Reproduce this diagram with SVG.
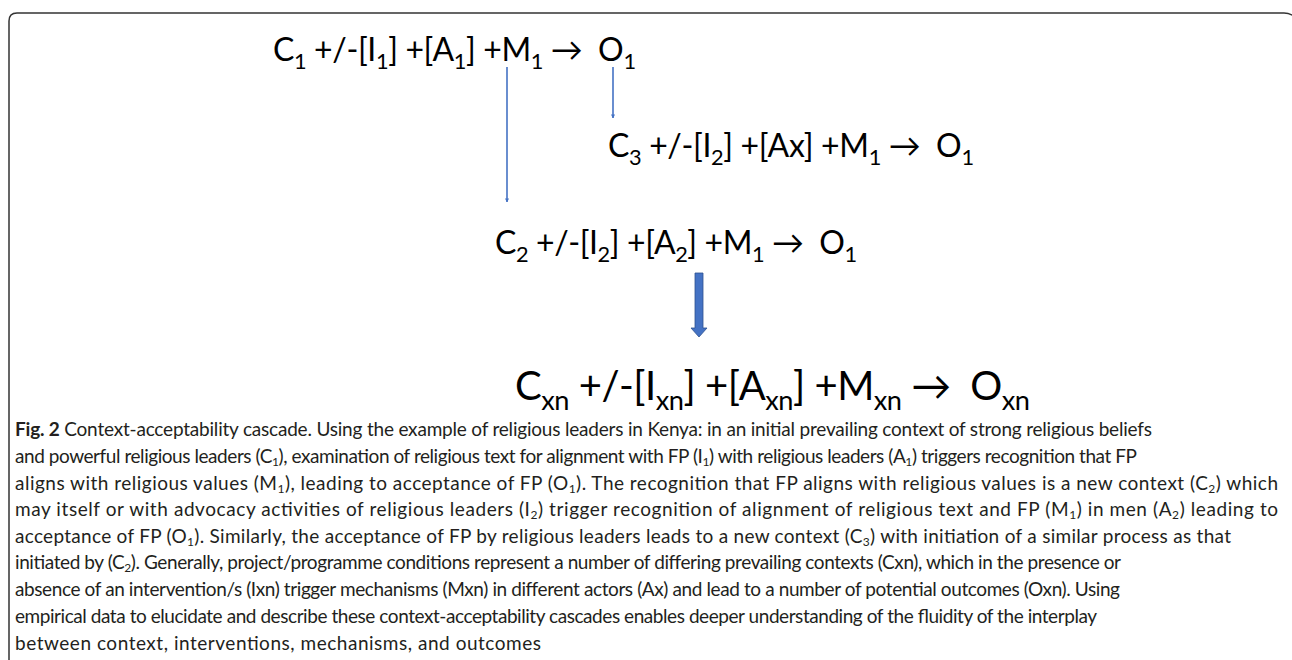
<svg xmlns="http://www.w3.org/2000/svg" width="1292" height="660" viewBox="0 0 1292 660">
<style>
.f{font-family:Lato,"Open Sans","Liberation Sans",sans-serif;fill:#000}
.f1{font-size:32px}
.f4{font-size:40px}
.s{font-size:0.68em}
.cap{font-family:Lato,"Liberation Sans",sans-serif;font-size:19px;fill:#231F20}
.cs{font-size:12px}
.thin{stroke:#4472C4;stroke-width:1.6;fill:none}
</style>
<defs>
<marker id="ah" viewBox="0 0 10 10" refX="9" refY="5" markerWidth="4" markerHeight="4" orient="auto" markerUnits="userSpaceOnUse">
<path d="M0,0 L10,5 L0,10 z" fill="#4472C4"/>
</marker>
</defs>
<rect width="1292" height="660" fill="#fff"/>
<path d="M9,680 L9,21 Q9,13 17,13 L1284,13 Q1292,13 1298,20" fill="none" stroke="#333" stroke-width="1.5"/>

<g id="f1">
<text class="f f1" x="273" y="61" textLength="363" lengthAdjust="spacing">C<tspan class="s" dy="8">1</tspan><tspan dy="-8"> +/-[I</tspan><tspan class="s" dy="8">1</tspan><tspan dy="-8">] +[A</tspan><tspan class="s" dy="8">1</tspan><tspan dy="-8">] +M</tspan><tspan class="s" dy="8">1</tspan><tspan dy="-8"> →&#160; O</tspan><tspan class="s" dy="8">1</tspan></text>
</g>
<g id="f3">
<text class="f f1" x="608" y="157" textLength="366" lengthAdjust="spacing">C<tspan class="s" dy="8">3</tspan><tspan dy="-8"> +/-[I</tspan><tspan class="s" dy="8">2</tspan><tspan dy="-8">] +[Ax] +M</tspan><tspan class="s" dy="8">1</tspan><tspan dy="-8"> →&#160; O</tspan><tspan class="s" dy="8">1</tspan></text>
</g>
<g id="f2">
<text class="f f1" x="495" y="254" textLength="362" lengthAdjust="spacing">C<tspan class="s" dy="8">2</tspan><tspan dy="-8"> +/-[I</tspan><tspan class="s" dy="8">2</tspan><tspan dy="-8">] +[A</tspan><tspan class="s" dy="8">2</tspan><tspan dy="-8">] +M</tspan><tspan class="s" dy="8">1</tspan><tspan dy="-8"> →&#160; O</tspan><tspan class="s" dy="8">1</tspan></text>
</g>
<g id="f4">
<text class="f f4" x="515" y="400" textLength="515" lengthAdjust="spacing">C<tspan class="s" dy="10">xn</tspan><tspan dy="-10"> +/-[I</tspan><tspan class="s" dy="10">xn</tspan><tspan dy="-10">] +[A</tspan><tspan class="s" dy="10">xn</tspan><tspan dy="-10">] +M</tspan><tspan class="s" dy="10">xn</tspan><tspan dy="-10"> →&#160; O</tspan><tspan class="s" dy="10">xn</tspan></text>
</g>

<g id="connectors">
<line class="thin" x1="507" y1="67" x2="507" y2="202" marker-end="url(#ah)"/>
<line class="thin" x1="613" y1="67" x2="613" y2="118" marker-end="url(#ah)"/>
<path d="M695,273 L703,273 L703,328 L707,328 L699,337 L691,328 L695,328 Z" fill="#4472C4" stroke="#2F528F" stroke-width="0.8"/>
</g>

<g id="caption">
<text class="cap" x="15" y="436" textLength="1137" lengthAdjust="spacing"><tspan font-weight="bold">Fig. 2</tspan> Context-acceptability cascade. Using the example of religious leaders in Kenya: in an initial prevailing context of strong religious beliefs</text>
<text class="cap" x="15" y="463" textLength="1122" lengthAdjust="spacing">and powerful religious leaders (C<tspan class="cs" dy="3">1</tspan><tspan dy="-3">), examination of religious text for alignment with FP (I</tspan><tspan class="cs" dy="3">1</tspan><tspan dy="-3">) with religious leaders (A</tspan><tspan class="cs" dy="3">1</tspan><tspan dy="-3">) triggers recognition that FP</tspan></text>
<text class="cap" x="15" y="490" textLength="1263" lengthAdjust="spacing">aligns with religious values (M<tspan class="cs" dy="3">1</tspan><tspan dy="-3">), leading to acceptance of FP (O</tspan><tspan class="cs" dy="3">1</tspan><tspan dy="-3">). The recognition that FP aligns with religious values is a new context (C</tspan><tspan class="cs" dy="3">2</tspan><tspan dy="-3">) which</tspan></text>
<text class="cap" x="15" y="516" textLength="1263" lengthAdjust="spacing">may itself or with advocacy activities of religious leaders (I<tspan class="cs" dy="3">2</tspan><tspan dy="-3">) trigger recognition of alignment of religious text and FP (M</tspan><tspan class="cs" dy="3">1</tspan><tspan dy="-3">) in men (A</tspan><tspan class="cs" dy="3">2</tspan><tspan dy="-3">) leading to</tspan></text>
<text class="cap" x="15" y="543" textLength="1216" lengthAdjust="spacing">acceptance of FP (O<tspan class="cs" dy="3">1</tspan><tspan dy="-3">). Similarly, the acceptance of FP by religious leaders leads to a new context (C</tspan><tspan class="cs" dy="3">3</tspan><tspan dy="-3">) with initiation of a similar process as that</tspan></text>
<text class="cap" x="15" y="569" textLength="1106" lengthAdjust="spacing">initiated by (C<tspan class="cs" dy="3">2</tspan><tspan dy="-3">). Generally, project/programme conditions represent a number of differing prevailing contexts (Cxn), which in the presence or</tspan></text>
<text class="cap" x="15" y="596" textLength="1105" lengthAdjust="spacing">absence of an intervention/s (Ixn) trigger mechanisms (Mxn) in different actors (Ax) and lead to a number of potential outcomes (Oxn). Using</text>
<text class="cap" x="15" y="623" textLength="1082" lengthAdjust="spacing">empirical data to elucidate and describe these context-acceptability cascades enables deeper understanding of the fluidity of the interplay</text>
<text class="cap" x="15" y="650" textLength="526" lengthAdjust="spacing">between context, interventions, mechanisms, and outcomes</text>
</g>
</svg>
